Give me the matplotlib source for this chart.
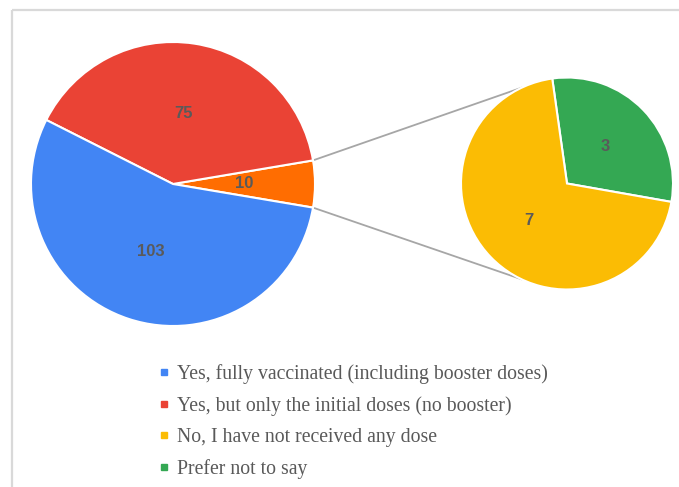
import numpy as np
import matplotlib
matplotlib.use("Agg")
import matplotlib.pyplot as plt
from matplotlib.lines import Line2D

# Survey responses: vaccination status
categories = [
    "Yes, fully vaccinated (including booster doses)",
    "Yes, but only the initial doses (no booster)",
    "No, I have not received any dose",
    "Prefer not to say",
]
counts = [103, 75, 7, 3]
colors = ["#4285F4", "#EA4335", "#FBBC04", "#34A853"]
other_color = "#FF6D01"

W, H = 679, 487
fig = plt.figure(figsize=(W / 100, H / 100), dpi=100)
ax = fig.add_axes([0, 0, 1, 1])
ax.set_xlim(0, W)
ax.set_ylim(0, H)
ax.set_aspect("equal")
ax.axis("off")

# Frame (top and left edges visible)
ax.plot([12, W], [H - 10, H - 10], color="#d9d9d9", lw=1.6, solid_capstyle="butt")
ax.plot([12, 12], [H - 10, 0], color="#d9d9d9", lw=1.6, solid_capstyle="butt")

label_kw = dict(ha="center", va="center", fontsize=12, fontweight="bold",
                color="#5a5a5a", family="Liberation Sans")

# Main pie: the two small answers are grouped into one "other" slice
other = counts[2] + counts[3]
main_vals = [other, counts[1], counts[0]]
main_cols = [other_color, colors[1], colors[0]]
main_c = (173, H - 184)
main_r = 142
start = -360 * other / sum(main_vals) / 2
wedges, _ = ax.pie(main_vals, colors=main_cols, startangle=start, counterclock=True,
                   center=main_c, radius=main_r, frame=True,
                   wedgeprops=dict(edgecolor="white", linewidth=1.5))
for w, v in zip(wedges, main_vals):
    mid = np.deg2rad((w.theta1 + w.theta2) / 2)
    ax.text(main_c[0] + 0.5 * main_r * np.cos(mid),
            main_c[1] + 0.5 * main_r * np.sin(mid), str(v), **label_kw)

# Secondary pie breaking down the "other" slice
sub_vals = [counts[3], counts[2]]
sub_cols = [colors[3], colors[2]]
sub_c = (567, H - 183.5)
sub_r = 106
swedges, _ = ax.pie(sub_vals, colors=sub_cols, startangle=-10, counterclock=True,
                    center=sub_c, radius=sub_r, frame=True,
                    wedgeprops=dict(edgecolor="white", linewidth=1.5))
for w, v in zip(swedges, sub_vals):
    mid = np.deg2rad((w.theta1 + w.theta2) / 2)
    ax.text(sub_c[0] + 0.5 * sub_r * np.cos(mid),
            sub_c[1] + 0.5 * sub_r * np.sin(mid), str(v), **label_kw)

# Connector lines between the "other" slice and the secondary pie
ow = wedges[0]
for theta, phi in [(ow.theta2, 115.5), (ow.theta1, -115.5)]:
    t, p = np.deg2rad(theta), np.deg2rad(phi)
    x0 = main_c[0] + main_r * np.cos(t)
    y0 = main_c[1] + main_r * np.sin(t)
    x1 = sub_c[0] + sub_r * np.cos(p)
    y1 = sub_c[1] + sub_r * np.sin(p)
    ax.plot([x0, x1], [y0, y1], color="#a6a6a6", lw=1.3, zorder=0)

ax.set_xlim(0, W)
ax.set_ylim(0, H)
ax.axis("off")

handles = [Line2D([], [], marker="s", linestyle="none", markersize=4.5,
                  markerfacecolor=c, markeredgecolor=c) for c in colors]
leg = ax.legend(handles, categories, loc="upper left",
                bbox_to_anchor=(159 / W, 1 - 364 / H), frameon=False,
                prop=dict(family="Liberation Serif", size=14.2),
                handlelength=0.5, handletextpad=0.4, labelspacing=0.61,
                borderpad=0, borderaxespad=0)
for t in leg.get_texts():
    t.set_color("#595959")

fig.savefig("out.png", dpi=100)
